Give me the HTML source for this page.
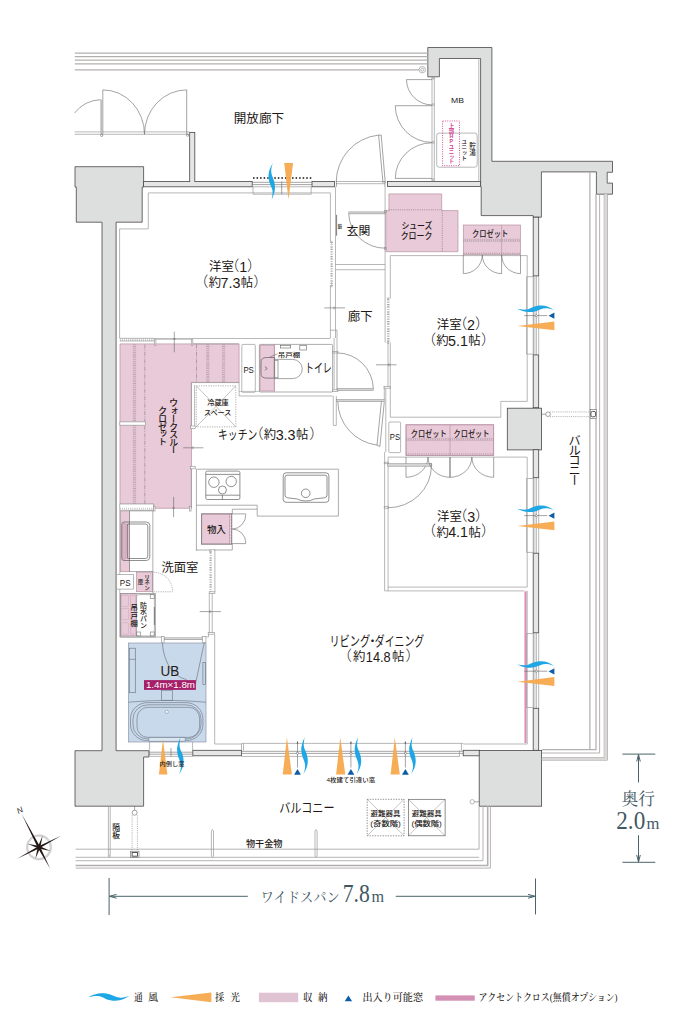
<!DOCTYPE html>
<html lang="ja"><head><meta charset="utf-8"><title>間取り図</title><style>
html,body{margin:0;padding:0;background:#fff}
body{width:676px;height:1025px;overflow:hidden;font-family:"Liberation Sans","Noto Sans CJK JP",sans-serif}
svg{display:block}
.w{fill:#dddede;stroke:#4a4545;stroke-width:.8;stroke-linejoin:miter}
.w2{fill:#e6e6e6}
.wf{stroke:#e6e6e6;stroke-width:1.2}
.l{fill:none;stroke:#9a9a9a;stroke-width:.7}
.lw{fill:#fff;stroke:#9a9a9a;stroke-width:.7}
.ln{fill:none;stroke:#8a8a8a;stroke-width:.7}
.n{fill:none;stroke:#9a9a9a;stroke-width:.6}
.g{fill:none;stroke:#b3afaf;stroke-width:1.25}
.gb{fill:none;stroke:#aeaaaa;stroke-width:.9}
.gb2{fill:none;stroke:#c2bebe;stroke-width:.8}
.gb3{fill:none;stroke:#b3afaf;stroke-width:1.6}
.gbf{fill:none;stroke:#dad7d7;stroke-width:2.2}
.g2{fill:none;stroke:#c4c0c0;stroke-width:1}
.g3{fill:none;stroke:#b3afaf;stroke-width:1.6}
.d{fill:none;stroke:#666;stroke-width:.6}
.lf{fill:#d4d4d4;stroke:#888;stroke-width:.5}
.dk{stroke:#444;stroke-width:.7}
.dk2{fill:#fff;stroke:#444;stroke-width:.9}
.dkf{fill:#555;stroke:none}
.dn{fill:none;stroke:#555;stroke-width:.65}
.dw{fill:#fff;stroke:#666;stroke-width:.6}
.x{stroke:#888;stroke-width:.5}
.pk{fill:#e8cad9;stroke:#b9939f;stroke-width:.7}
.fr{fill:none;stroke:#8d8487;stroke-width:1}
.pkb{fill:none;stroke:#b893a8;stroke-width:.7}
.pkl{stroke:#b893a8;stroke-width:.7}
.pkd{fill:#ddb5c9;stroke:#a98798;stroke-width:.5}
.pkc{fill:#e8cad9;stroke:#c9a5ba;stroke-width:.5}
.ub{fill:#c9d9ec;stroke:none}
.ubl{fill:none;stroke:#8d99a6;stroke-width:.7}
.ubd{fill:none;stroke:#6d7783;stroke-width:.65}
.ubh{fill:#dbe6f3;stroke:#6d7783;stroke-width:.6}
.ubw{fill:#fff;stroke:#7f8a96;stroke-width:.6}
.mg{fill:#a61f69;stroke:none}
.dot{stroke:#8a7a82;stroke-width:.7;stroke-dasharray:1.1 1.1}
.rail{stroke:#a08e97;stroke-width:2.2;stroke-dasharray:.55 1.3}
.rl{stroke:#bfa3b2;stroke-width:.4}
.dot2{stroke:#777;stroke-width:.6;stroke-dasharray:1 1.1}
.dash{stroke:#8a7a82;stroke-width:.6;stroke-dasharray:4 1.2 1 1.2}
.wv{fill:#1ea7e4;stroke:none}
.or{fill:#f5a94d;stroke:none;opacity:.95}
.bt{fill:#0d5ca5;stroke:none}
.dm{fill:none;stroke:#4a646c;stroke-width:1}
.lg1{fill:#dfc3d2}
.lg2{fill:#d48fb4}
text{fill:#231815;font-weight:400;font-family:"Liberation Sans","Noto Sans CJK JP",sans-serif}
.tb{font-weight:500}
.vt{writing-mode:vertical-rl;text-orientation:upright;dominant-baseline:central}
.tw{fill:#fff}
.pr{font-weight:300}
.tm{fill:#d2428f;font-weight:700}
.sd{font-weight:400;fill:#3f5963;font-family:"Liberation Serif","Noto Serif CJK SC",serif}
.sl{fill:#231815;font-weight:500;font-family:"Liberation Serif","Noto Serif CJK SC",serif}
</style></head><body>
<svg width="676" height="1025" viewBox="0 0 676 1025">
<path class="pk" d="M120,343.9H239.1V382.6H191.5V508.3H154V504.2H120Z" />
<path class="pk" d="M388.9,193.9H441.7V210.6H458V251.7H385.8V210.6H388.9Z" />
<rect class="pk" x="463.3" y="225" width="57.2" height="29.7" />
<rect class="pk" x="260" y="345.2" width="14.3" height="45.8" />
<rect class="pk" x="406" y="424.8" width="87.7" height="30.8" />
<rect class="pk" x="201.6" y="513.9" width="30.1" height="30.2" />
<rect class="pk" x="120.5" y="510.9" width="9.0" height="60.8" />
<rect class="pk" x="136.5" y="572" width="15.9" height="19.7" />
<rect class="pk" x="120.6" y="593.8" width="15.9" height="42.0" />
<rect class="ub" x="128.4" y="643" width="77.6" height="99" />
<polygon class="w" points="75,166.7 143.6,166.7 143.6,187 142.2,187 142.2,222.2 116.1,222.2 116.1,750.7 148.9,750.7 148.9,757 143.6,757 143.6,806.2 75,806.2 75,750.7 102,750.7 102,222.2 76.3,222.2 76.3,187 75,187"/>
<polygon class="w" points="427.8,47.5 491.9,47.5 491.9,161.3 612.5,161.3 612.5,172.3 607.2,172.3 607.2,183.1 612.5,183.1 612.5,194.2 596.4,194.2 596.4,171.9 541.4,171.9 541.4,217.2 538.7,217.2 533.2,217.2 533.2,215.6 481.2,215.6 481.2,186.6 480.6,186.6 480.6,58.5 439.4,58.5 439.4,76.8 427.8,76.8"/>
<rect class="w w2" x="143.6" y="181.4" width="108.6" height="5.4" />
<rect class="w w2" x="312" y="181.4" width="22.4" height="5.4" />
<rect class="w w2" x="189.7" y="132.5" width="5.1" height="48.9" />
<line class="wf" x1="190.2" y1="181.4" x2="194.3" y2="181.4"/>
<rect class="w w2" x="387.4" y="181.4" width="93.2" height="5.2" />
<rect class="w w2" x="533.2" y="217.2" width="5.5" height="58.7" />
<rect class="w w2" x="533.2" y="354.9" width="5.5" height="52.8" />
<rect class="w" x="507.3" y="408.2" width="34.3" height="41.7" />
<rect class="w w2" x="533.2" y="449.7" width="5.5" height="28.0" />
<rect class="w w2" x="533.2" y="553.2" width="5.5" height="79.6" />
<rect class="w w2" x="533.2" y="708.3" width="5.5" height="42.0" />
<rect class="w w2" x="192.8" y="750.3" width="48.7" height="5.5" />
<rect class="w w2" x="463.2" y="750.3" width="16.4" height="5.5" />
<rect class="w" x="479.2" y="750.5" width="62.4" height="55.7" />
<line class="g" x1="74.8" y1="53" x2="427.8" y2="53"/>
<line class="g" x1="74.8" y1="56.7" x2="427.8" y2="56.7"/>
<line class="g" x1="74.8" y1="60.2" x2="427.8" y2="60.2"/>
<line class="g" x1="74.8" y1="63.9" x2="427.8" y2="63.9"/>
<line class="g" x1="74.8" y1="69.9" x2="419" y2="69.9"/>
<circle class="l" cx="422.3" cy="69.7" r="3.2"/>
<circle class="l" cx="422.3" cy="69.7" r="1.5"/>
<line class="l" x1="74.6" y1="131.9" x2="189.7" y2="131.9"/>
<line class="l" x1="74.6" y1="134.3" x2="189.7" y2="134.3"/>
<line class="d" x1="102.8" y1="89.9" x2="102.8" y2="134"/>
<path class="d" d="M102.8,89.9A41.7,44.4 0 0 1 144.5,134.3" />
<line class="d" x1="186.7" y1="89.9" x2="186.7" y2="134"/>
<path class="d" d="M186.7,89.9A42.2,44.4 0 0 0 144.5,134.3" />
<line x1="101.5" y1="99.7" x2="101.5" y2="134" stroke="#bdbdbd" stroke-width="2.4"/>
<path class="d" d="M100.6,99.7A34.7,34.7 0 0 0 74.6,113" />
<circle class="d" cx="101.7" cy="135.4" r="1.1"/>
<circle class="d" cx="187.6" cy="135.2" r="1.1"/>
<polyline class="l" points="330.4,241.7 330.4,192.9 148.3,192.9 148.3,228.9 119.6,228.9 119.6,338.3"/>
<line class="d" x1="252.2" y1="182.3" x2="312" y2="182.3"/>
<line class="d" x1="252.2" y1="184.60000000000002" x2="312" y2="184.60000000000002"/>
<polyline class="l" points="253.0,186.8 253.0,194.2 311.2,194.2 311.2,186.8"/>
<line class="l" x1="252.2" y1="186.8" x2="312" y2="186.8"/>
<line class="d" x1="281.7" y1="181.4" x2="281.7" y2="194.2"/>
<line x1="253" y1="177.9" x2="311.5" y2="177.9" stroke="#4a4a4a" stroke-width="2" stroke-dasharray="1.5 2.05"/>
<line class="l" x1="335.5" y1="186.8" x2="335.5" y2="338"/>
<line class="l" x1="330.4" y1="285.8" x2="330.4" y2="338"/>
<line x1="331.6" y1="242.5" x2="331.6" y2="285.5" stroke="#888" stroke-width="2.2" stroke-dasharray="0.6 1.1"/>
<circle class="l" cx="331.5" cy="242.3" r="0.9"/>
<circle class="l" cx="331.5" cy="285.8" r="0.9"/>
<line class="d" x1="324.4" y1="307.9" x2="345" y2="307.9"/>
<line class="d" x1="334" y1="306.5" x2="334" y2="309.3"/>
<line class="dk" x1="336.6" y1="214.9" x2="336.6" y2="235.7"/>
<line class="l" x1="335.5" y1="264.5" x2="385.1" y2="264.5"/>
<line class="l" x1="335.5" y1="269.7" x2="385.1" y2="269.7"/>
<line class="l" x1="336" y1="181.5" x2="385" y2="181.5"/>
<line class="l" x1="336" y1="183.7" x2="385" y2="183.7"/>
<line class="d" x1="336.4" y1="181.4" x2="336.4" y2="186.8"/>
<line class="d" x1="384.9" y1="181.4" x2="384.9" y2="186.8"/>
<path class="d" d="M336.2,182A47,47.5 0 0 1 378.6,135.1" />
<line class="d" x1="378.6" y1="135.1" x2="383" y2="183"/>
<line class="d" x1="381.2" y1="135.1" x2="385.3" y2="183"/>
<line class="d" x1="378.6" y1="135.1" x2="381.2" y2="135.1"/>
<line class="l" x1="385.1" y1="186.6" x2="385.1" y2="300"/>
<rect class="lf" x="348.8" y="211.9" width="36.3" height="2.0" />
<path class="d" d="M348.8,213.8A36.3,35 0 0 0 385.1,248.2" />
<rect class="l" x="384.6" y="210.6" width="2.0" height="1.8" />
<rect class="l" x="384.6" y="247.4" width="2.0" height="1.8" />
<line x1="388.9" y1="209.8" x2="441.7" y2="209.8" class="dot"/>
<line x1="442.3" y1="210.6" x2="442.3" y2="251.7" class="dot"/>
<polyline class="l" points="390.3,298.5 390.3,255.6 527.2,255.6 527.2,401.4 500.8,401.4 500.8,417.2 390.3,417.2 390.3,342.6"/>
<line class="l" x1="385.1" y1="300" x2="385.1" y2="342.6"/>
<line x1="388.3" y1="299" x2="388.3" y2="342" stroke="#888" stroke-width="2.4" stroke-dasharray="0.6 1.1"/>
<circle class="l" cx="388.2" cy="298.6" r="0.9"/>
<circle class="l" cx="388" cy="342.6" r="0.9"/>
<line class="l" x1="388" y1="342.6" x2="388" y2="387"/>
<line class="d" x1="375.9" y1="364.8" x2="396.6" y2="364.8"/>
<line class="d" x1="388.9" y1="363.3" x2="388.9" y2="366.3"/>
<polyline class="l" points="384.3,387.5 384.3,399.5"/>
<line class="l" x1="385.8" y1="388.5" x2="385.8" y2="452"/>
<rect class="l" x="384" y="386.6" width="6.3" height="1.6" />
<line class="pkl" x1="501.6" y1="225" x2="501.6" y2="254.7"/>
<line x1="463.6" y1="240.3" x2="520.9" y2="240.3" class="rail"/>
<line class="rl" x1="463.6" y1="239.15" x2="520.9" y2="239.15"/>
<line class="rl" x1="463.6" y1="241.45000000000002" x2="520.9" y2="241.45000000000002"/>
<line x1="463.6" y1="253.3" x2="520.5" y2="253.3" class="dot"/>
<line class="d" x1="463.3" y1="255" x2="463.3" y2="273.6"/>
<path class="d" d="M463.3,273.6A19,18.6 0 0 0 482.3,255" />
<line class="d" x1="501.6" y1="255" x2="501.6" y2="273.6"/>
<path class="d" d="M501.6,273.6A19.3,18.6 0 0 1 482.3,255" />
<line class="d" x1="520.5" y1="255" x2="520.5" y2="273.6"/>
<path class="d" d="M520.5,273.6A18.9,18.6 0 0 1 501.6,255" />
<line class="d" x1="533.9" y1="275.9" x2="533.9" y2="354.9"/>
<line class="d" x1="536.2" y1="275.9" x2="536.2" y2="354.9"/>
<polyline class="l" points="533.2,276.7 526.6,276.7 526.6,354.09999999999997 533.2,354.09999999999997"/>
<line class="l" x1="533.2" y1="275.9" x2="533.2" y2="354.9"/>
<line class="l" x1="538.7" y1="275.9" x2="538.7" y2="354.9"/>
<line class="d" x1="533.9" y1="477.7" x2="533.9" y2="553.2"/>
<line class="d" x1="536.2" y1="477.7" x2="536.2" y2="553.2"/>
<polyline class="l" points="533.2,478.5 526.6,478.5 526.6,552.4000000000001 533.2,552.4000000000001"/>
<line class="l" x1="533.2" y1="477.7" x2="533.2" y2="553.2"/>
<line class="l" x1="538.7" y1="477.7" x2="538.7" y2="553.2"/>
<line class="d" x1="533.9" y1="632.8" x2="533.9" y2="708.3"/>
<line class="d" x1="536.2" y1="632.8" x2="536.2" y2="708.3"/>
<polyline class="l" points="533.2,633.5999999999999 526.6,633.5999999999999 526.6,707.5 533.2,707.5"/>
<line class="l" x1="533.2" y1="632.8" x2="533.2" y2="708.3"/>
<line class="l" x1="538.7" y1="632.8" x2="538.7" y2="708.3"/>
<line class="l" x1="119.6" y1="338.3" x2="154.4" y2="338.3"/>
<line class="l" x1="119.6" y1="341" x2="154.4" y2="341"/>
<line x1="120.5" y1="339.7" x2="154" y2="339.7" stroke="#999" stroke-width="2.4" stroke-dasharray="0.5 1.4"/>
<line x1="154.4" y1="338.9" x2="192.8" y2="338.9" stroke="#bbb" stroke-width="1.8"/>
<rect class="lw" x="154.4" y="339" width="1.5" height="6.5" />
<rect class="lw" x="191.3" y="339" width="1.5" height="6.5" />
<line class="l" x1="192.8" y1="338.5" x2="330.4" y2="338.5"/>
<line class="l" x1="192.8" y1="343.9" x2="239" y2="343.9"/>
<line class="d" x1="174.3" y1="331.7" x2="174.3" y2="352.4"/>
<line class="d" x1="172.9" y1="338.9" x2="175.7" y2="338.9"/>
<line x1="134.4" y1="344.5" x2="134.4" y2="421.9" class="rail"/>
<line class="rl" x1="133.25" y1="344.5" x2="133.25" y2="421.9"/>
<line class="rl" x1="135.55" y1="344.5" x2="135.55" y2="421.9"/>
<line x1="134.4" y1="425.2" x2="134.4" y2="504" class="rail"/>
<line class="rl" x1="133.25" y1="425.2" x2="133.25" y2="504"/>
<line class="rl" x1="135.55" y1="425.2" x2="135.55" y2="504"/>
<line x1="144.8" y1="344.5" x2="144.8" y2="504" class="dash"/>
<line x1="196.5" y1="344.5" x2="196.5" y2="382.4" class="dash"/>
<line x1="207.8" y1="344.5" x2="207.8" y2="382.4" class="rail"/>
<line class="rl" x1="206.65" y1="344.5" x2="206.65" y2="382.4"/>
<line class="rl" x1="208.95000000000002" y1="344.5" x2="208.95000000000002" y2="382.4"/>
<line x1="223.6" y1="344.5" x2="223.6" y2="382.4" class="rail"/>
<line class="rl" x1="222.45" y1="344.5" x2="222.45" y2="382.4"/>
<line class="rl" x1="224.75" y1="344.5" x2="224.75" y2="382.4"/>
<rect class="lw" x="119.8" y="421.9" width="25.7" height="3.3" />
<polyline class="l" points="191.3,382.4 239.1,382.4 239.1,396 332.6,396"/>
<line class="l" x1="191.3" y1="382.4" x2="191.3" y2="426"/>
<line class="l" x1="194.6" y1="385" x2="194.6" y2="426"/>
<rect class="lw" x="190.6" y="426" width="4.6" height="2.5" />
<line class="l" x1="191.3" y1="468.5" x2="191.3" y2="508"/>
<rect class="lw" x="190.6" y="466.3" width="4.6" height="2.5" />
<line class="d" x1="183.2" y1="447.8" x2="203.4" y2="447.8"/>
<line class="d" x1="192.9" y1="446.3" x2="192.9" y2="449.3"/>
<rect x="196.3" y="385.9" width="39.5" height="41" fill="none" stroke="#777" stroke-width=".6" stroke-dasharray="1.2 1.2"/>
<line class="x" x1="196.3" y1="385.9" x2="235.8" y2="426.9"/>
<line class="x" x1="235.8" y1="385.9" x2="196.3" y2="426.9"/>
<rect class="lw" x="241.8" y="344.4" width="13.5" height="47.9" rx="1"/>
<rect class="ln" x="259.4" y="344.4" width="73.2" height="47.6" rx="1"/>
<line class="pkl" x1="274.4" y1="344.4" x2="274.4" y2="392"/>
<path class="dn" d="M274.4,357.5H266.5Q261,357.5 261,362V373.6Q261,378.1 266.5,378.1H274.4Z" />
<path class="dw" d="M274.4,359.4H292.5A9.8,9.6 0 0 1 292.5,378.6H274.4Z" />
<rect class="dw" x="274.8" y="360.2" width="3.2" height="17.6" />
<path class="dn" d="M264.8,366.6L267.3,368.4L264.8,370.2" />
<line class="d" x1="270" y1="357" x2="277.6" y2="353.7"/>
<rect class="dw" x="280.6" y="345.3" width="10.1" height="2.7" />
<rect class="dw" x="299.8" y="345.3" width="6.5" height="4.7" />
<line class="l" x1="334.1" y1="338" x2="334.1" y2="352.2"/>
<line class="l" x1="337" y1="330" x2="337" y2="352.9"/>
<polyline class="l" points="330.2,330.2 337,330.2"/>
<line class="l" x1="334.1" y1="352.2" x2="334.1" y2="389.5"/>
<line class="d" x1="337" y1="352.9" x2="337" y2="389.5"/>
<path class="d" d="M337,352.9A36.4,36.4 0 0 1 373.3,388.4" />
<rect class="lf" x="337" y="388.4" width="36.3" height="2.2" />
<rect class="l" x="332.5" y="351.4" width="5.5" height="1.6" />
<rect class="l" x="332.5" y="389.8" width="5.5" height="1.6" />
<line class="n" x1="239.1" y1="391.4" x2="259.4" y2="391.4"/>
<polyline class="l" points="333.3,396 333.3,425.4 336.3,425.4 336.3,396"/>
<rect class="lf" x="336.6" y="399.5" width="47.7" height="2.2" />
<path class="d" d="M337.8,401.7A45,44.5 0 0 0 377,445.1" />
<line class="d" x1="381.4" y1="401.7" x2="377" y2="445.1"/>
<line class="d" x1="384.3" y1="401.7" x2="379.9" y2="446.5"/>
<line class="d" x1="377" y1="445.1" x2="379.9" y2="446.5"/>
<polyline class="ln" points="196.4,469.2 338.4,469.2 338.4,516.1 257.2,516.1 257.2,505.2 196.4,505.2"/>
<line class="ln" x1="196.4" y1="469.2" x2="196.4" y2="550.9"/>
<rect class="dn" x="205.8" y="471.1" width="34.1" height="28.4" rx="1.5"/>
<line class="dn" x1="206" y1="474.4" x2="239.7" y2="474.4"/>
<line class="dn" x1="206" y1="495.2" x2="239.7" y2="495.2"/>
<circle class="dn" cx="213.9" cy="482.2" r="5.2"/>
<circle class="dn" cx="231.2" cy="481.5" r="5.2"/>
<circle class="dn" cx="222.4" cy="490" r="4"/>
<line class="dn" x1="222.4" y1="495.2" x2="222.4" y2="499.5"/>
<rect class="dn" x="283.2" y="472.8" width="45.7" height="29.5" rx="3"/>
<path class="dn" d="M287,475.2H325Q327,475.2 327,477.2V495Q327,497.5 324.5,497.8L314,499Q311,501 305.7,501Q300.4,501 297.4,499L287.5,497.8Q285,497.5 285,495V477.2Q285,475.2 287,475.2Z" />
<circle class="dn" cx="305.7" cy="493.3" r="4.3"/>
<rect class="fr" x="201.6" y="513.9" width="30.1" height="30.2" />
<line class="pkl" x1="229.6" y1="513.9" x2="229.6" y2="544.1"/>
<line x1="230.6" y1="515" x2="230.6" y2="543" stroke="#fff" stroke-width=".7" stroke-dasharray="1 2"/>
<polyline class="ln" points="257.2,509.2 232.3,509.2 232.3,513.9"/>
<polyline class="ln" points="232.3,544.1 232.3,550 214,550"/>
<line class="ln" x1="196.4" y1="550" x2="209.9" y2="550"/>
<line class="d" x1="231.7" y1="513.9" x2="245.9" y2="513.9"/>
<path class="d" d="M245.9,514.2A13.6,14.8 0 0 1 232.3,529" />
<line class="d" x1="231.7" y1="543.6" x2="245.9" y2="543.6"/>
<path class="d" d="M245.9,543.3A13.6,14.2 0 0 0 232.3,529.1" />
<rect class="lw" x="119.8" y="504" width="33.7" height="6.2" />
<line x1="120.5" y1="508.6" x2="153" y2="508.6" stroke="#999" stroke-width="1.8" stroke-dasharray="0.5 1.4"/>
<line class="d" x1="173.6" y1="496.8" x2="173.6" y2="517.2"/>
<line class="d" x1="172.2" y1="508" x2="175" y2="508"/>
<rect class="lw" x="153.5" y="506.4" width="1.5" height="4.6" />
<rect class="lw" x="189.6" y="506.4" width="1.5" height="4.6" />
<line class="l" x1="119.8" y1="510.6" x2="119.8" y2="637"/>
<line class="l" x1="119.8" y1="637" x2="161.5" y2="637"/>
<rect class="ln" x="129.5" y="510.9" width="23.4" height="60.8" />
<path class="dn" d="M124,522H146.3Q149.8,522 149.8,525.5V557Q149.8,560.5 146.3,560.5H124Q121.7,560.5 121.7,558V524.5Q121.7,522 124,522Z" />
<path class="dn" d="M127.6,524H145.5Q147.8,524 147.8,526.5V556Q147.8,558.5 145.5,558.5H127.6Z" />
<rect class="pkd" x="122.6" y="523.6" width="3.6" height="35.4" rx="1.2"/>
<rect class="lw" x="116.7" y="574.4" width="16.7" height="14.7" />
<path d="M153.5,572.2A19.3,19.3 0 0 1 172.6,591.6" fill="none" stroke="#888" stroke-width=".6" stroke-dasharray="1.3 1"/>
<line x1="153.5" y1="591.8" x2="172.6" y2="591.8" stroke="#888" stroke-width=".6" stroke-dasharray="1.3 1"/>
<line class="ln" x1="152.9" y1="571.7" x2="152.9" y2="593.5"/>
<rect class="ln" x="120.7" y="593.5" width="34.6" height="43.5" />
<rect class="lw" x="136.6" y="594.6" width="17.8" height="41.4" rx="2"/>
<rect class="pkc" x="121.6" y="595.4" width="6.9" height="11.2" />
<rect class="pkc" x="130.3" y="595.4" width="5.5" height="11.2" />
<rect class="pkc" x="121.6" y="608.6" width="6.9" height="11.2" />
<rect class="pkc" x="130.3" y="608.6" width="5.5" height="11.2" />
<rect class="pkc" x="121.6" y="622.8" width="6.9" height="11.2" />
<rect class="pkc" x="130.3" y="622.8" width="5.5" height="11.2" />
<rect class="ln" x="150.3" y="594.6" width="4.1" height="4.0" />
<rect class="ln" x="150.3" y="632" width="4.1" height="4" />
<rect class="ln" x="136.6" y="632" width="4.0" height="4" />
<line class="dn" x1="154.4" y1="607" x2="154.4" y2="625"/>
<line class="l" x1="214.9" y1="549.7" x2="214.9" y2="592"/>
<line class="l" x1="209.4" y1="549.7" x2="214.9" y2="549.7"/>
<line x1="210.6" y1="551.8" x2="210.6" y2="591.8" stroke="#888" stroke-width="2.2" stroke-dasharray="0.6 1.1"/>
<circle class="l" cx="210.4" cy="551.3" r="0.9"/>
<rect class="l" x="209.2" y="591.8" width="5.7" height="1.6" />
<line class="l" x1="209.3" y1="593.5" x2="209.3" y2="632.6"/>
<line class="l" x1="212.2" y1="593.5" x2="212.2" y2="632.6"/>
<rect class="l" x="208.2" y="632.6" width="6.3" height="1.6" />
<line class="d" x1="199.7" y1="611.6" x2="221" y2="611.6"/>
<line class="d" x1="210" y1="610.1" x2="210" y2="613.1"/>
<polyline class="l" points="214.7,634.2 214.7,744 241.5,744"/>
<polyline class="l" points="205.9,636.9 208.5,636.9 208.5,634.2"/>
<rect class="ubl" x="128.4" y="643" width="77.6" height="99" />
<rect class="ubd" x="129.3" y="648.2" width="6.0" height="44.5" />
<line class="ubd" x1="129.3" y1="659.3" x2="135.3" y2="659.3"/>
<rect class="ubd" x="202.9" y="662.5" width="2.4" height="22.0" />
<rect class="ubd" x="161.4" y="690.2" width="10.9" height="10.1" />
<path class="ubd" d="M128.4,702.2Q167,698.6 206,702.2" />
<rect class="ubd" x="130.5" y="702.6" width="72.4" height="38.1" rx="17" ry="16"/>
<rect class="ubd" x="133" y="704.8" width="68" height="34.2" rx="15" ry="14"/>
<rect class="ubd" x="137" y="707.3" width="62.6" height="30.1" rx="11" ry="11"/>
<circle class="ubw" cx="166.7" cy="711.9" r="1.6"/>
<rect class="ubh" x="148.8" y="737.4" width="36.5" height="4.0" rx="1"/>
<rect class="lw" x="161.5" y="636.6" width="2.6" height="6.0" />
<rect class="lw" x="202.3" y="636.6" width="3.6" height="6.0" />
<line class="d" x1="164.1" y1="637.9" x2="202.3" y2="637.9"/>
<line class="d" x1="164.1" y1="639.4" x2="202.3" y2="639.4"/>
<path class="d" d="M162.4,643C163,655 168,668 176,674.5Q181,678.5 186.6,679.6" />
<line class="d" x1="204.2" y1="643" x2="195.5" y2="683.7"/>
<rect class="mg" x="144" y="680.1" width="51.9" height="9.8" />
<rect class="lw" x="388.8" y="422" width="11.8" height="30.6" rx="1"/>
<rect class="pkb" x="406" y="424.8" width="87.7" height="30.8" />
<line class="pkl" x1="450" y1="424.8" x2="450" y2="455.6"/>
<line x1="406" y1="439.4" x2="493.7" y2="439.4" class="rail"/>
<line class="rl" x1="406" y1="438.25" x2="493.7" y2="438.25"/>
<line class="rl" x1="406" y1="440.54999999999995" x2="493.7" y2="440.54999999999995"/>
<line x1="406" y1="454" x2="493.7" y2="454" class="dot"/>
<polyline class="l" points="388.1,590.9 388.1,457.1 527.2,457.1 527.2,587.1 388.1,587.1"/>
<polyline class="l" points="384.6,452 384.6,590.9 524,590.9"/>
<line class="d" x1="406" y1="457.1" x2="406" y2="477.3"/>
<path class="d" d="M406,477.3A22,20.2 0 0 0 428,457.1" />
<line class="d" x1="450" y1="457.1" x2="450" y2="477.3"/>
<path class="d" d="M450,477.3A22,20.2 0 0 1 428,457.1" />
<line class="d" x1="450" y1="457.1" x2="450" y2="477.3"/>
<path class="d" d="M450,477.3A21.8,20.2 0 0 0 471.8,457.1" />
<line class="d" x1="493.7" y1="457.1" x2="493.7" y2="477.3"/>
<path class="d" d="M493.7,477.3A21.8,20.2 0 0 1 471.9,457.1" />
<rect class="lf" x="387.8" y="463.7" width="43.6" height="2.5" />
<path class="d" d="M431.4,466A43.6,41.8 0 0 1 387.8,507.8" />
<circle class="d" cx="430.6" cy="464.6" r="1.1"/>
<rect class="l" x="384.2" y="462.2" width="4.2" height="1.5" />
<rect class="l" x="384.2" y="506.6" width="4.2" height="1.6" />
<line x1="525.5" y1="591.3" x2="525.5" y2="743" stroke="#dd8fb8" stroke-width="2.1"/>
<polyline class="l" points="527.2,590.9 527.2,744 463.2,744"/>
<polyline class="l" points="149.6,742 149.6,756.4 192.6,756.4 192.6,742"/>
<line class="d" x1="149.3" y1="752.2" x2="192.8" y2="752.2"/>
<line class="d" x1="149.3" y1="754.2" x2="192.8" y2="754.2"/>
<line class="d" x1="171" y1="748" x2="171" y2="756.4"/>
<polyline class="l" points="241.5,750.3 241.5,743.4 463.2,743.4"/>
<line class="l" x1="243.5" y1="743.4" x2="243.5" y2="750.6"/>
<line class="l" x1="461.4" y1="743.4" x2="461.4" y2="750.6"/>
<line class="d" x1="241.5" y1="751.3" x2="463.2" y2="751.3"/>
<line class="d" x1="241.5" y1="753.4" x2="463.2" y2="753.4"/>
<line class="l" x1="241.5" y1="756.4" x2="459.5" y2="756.4"/>
<polyline class="l" points="459.5,756.4 459.5,750.3"/>
<path class="wv" d="M0,3.2C3,3.6 6,4.4 8.9,4C12,3.5 13,2.6 15,1.8C18,0.6 21,0 24,0C29,0 33,2 36.8,4.5C33.5,3.2 31,2.6 28.4,2.7C25,2.8 22.5,4.2 19.5,5.3C16,6.5 12,6.8 8.9,6.2C5.5,5.6 2.5,4.2 0,3.2Z" transform="translate(517.1,305.6)"/>
<line class="d" x1="524.2" y1="315.6" x2="547.3" y2="315.6"/>
<circle class="dw" cx="536.2" cy="315.6" r="1.1"/>
<path class="bt" d="M548.6,315.8L554.4,312.6V318.8Z" />
<path class="or" d="M517.5,326.1L554.4,321.40000000000003V330.3Z" />
<path class="wv" d="M0,3.2C3,3.6 6,4.4 8.9,4C12,3.5 13,2.6 15,1.8C18,0.6 21,0 24,0C29,0 33,2 36.8,4.5C33.5,3.2 31,2.6 28.4,2.7C25,2.8 22.5,4.2 19.5,5.3C16,6.5 12,6.8 8.9,6.2C5.5,5.6 2.5,4.2 0,3.2Z" transform="translate(517.1,505.6)"/>
<line class="d" x1="524.2" y1="515.6" x2="547.3" y2="515.6"/>
<circle class="dw" cx="536.2" cy="515.6" r="1.1"/>
<path class="bt" d="M548.6,515.8000000000001L554.4,512.6V518.8000000000001Z" />
<path class="or" d="M517.5,526.1L554.4,521.4V530.3000000000001Z" />
<path class="wv" d="M0,3.2C3,3.6 6,4.4 8.9,4C12,3.5 13,2.6 15,1.8C18,0.6 21,0 24,0C29,0 33,2 36.8,4.5C33.5,3.2 31,2.6 28.4,2.7C25,2.8 22.5,4.2 19.5,5.3C16,6.5 12,6.8 8.9,6.2C5.5,5.6 2.5,4.2 0,3.2Z" transform="translate(517.1,661.2)"/>
<line class="d" x1="524.2" y1="671.2" x2="547.3" y2="671.2"/>
<circle class="dw" cx="536.2" cy="671.2" r="1.1"/>
<path class="bt" d="M548.6,671.4000000000001L554.4,668.2V674.4000000000001Z" />
<path class="or" d="M517.5,681.7L554.4,677.0V685.9000000000001Z" />
<path class="or" d="M286.9,737.6L282.7,774.6H291.9Z" />
<line class="d" x1="297.5" y1="741.5" x2="297.5" y2="767.5"/>
<circle class="dw" cx="297.5" cy="753.3" r="1.1"/>
<path class="dkf" d="M297.5,741.2L296.6,743.4H298.4Z" />
<path class="bt" d="M297.5,769L294.1,774.7H300.9Z" />
<path class="wv" d="M0,3.2C3,3.6 6,4.4 8.9,4C12,3.5 13,2.6 15,1.8C18,0.6 21,0 24,0C29,0 33,2 36.8,4.5C33.5,3.2 31,2.6 28.4,2.7C25,2.8 22.5,4.2 19.5,5.3C16,6.5 12,6.8 8.9,6.2C5.5,5.6 2.5,4.2 0,3.2Z" transform="translate(307.8,737.2) rotate(90)"/>
<path class="or" d="M340.29999999999995,737.6L336.09999999999997,774.6H345.29999999999995Z" />
<line class="d" x1="350.9" y1="741.5" x2="350.9" y2="767.5"/>
<circle class="dw" cx="350.9" cy="753.3" r="1.1"/>
<path class="dkf" d="M350.9,741.2L350.0,743.4H351.79999999999995Z" />
<path class="bt" d="M350.9,769L347.5,774.7H354.29999999999995Z" />
<path class="wv" d="M0,3.2C3,3.6 6,4.4 8.9,4C12,3.5 13,2.6 15,1.8C18,0.6 21,0 24,0C29,0 33,2 36.8,4.5C33.5,3.2 31,2.6 28.4,2.7C25,2.8 22.5,4.2 19.5,5.3C16,6.5 12,6.8 8.9,6.2C5.5,5.6 2.5,4.2 0,3.2Z" transform="translate(361.2,737.2) rotate(90)"/>
<path class="or" d="M394.79999999999995,737.6L390.59999999999997,774.6H399.79999999999995Z" />
<line class="d" x1="405.4" y1="741.5" x2="405.4" y2="767.5"/>
<circle class="dw" cx="405.4" cy="753.3" r="1.1"/>
<path class="dkf" d="M405.4,741.2L404.5,743.4H406.29999999999995Z" />
<path class="bt" d="M405.4,769L402.0,774.7H408.79999999999995Z" />
<path class="wv" d="M0,3.2C3,3.6 6,4.4 8.9,4C12,3.5 13,2.6 15,1.8C18,0.6 21,0 24,0C29,0 33,2 36.8,4.5C33.5,3.2 31,2.6 28.4,2.7C25,2.8 22.5,4.2 19.5,5.3C16,6.5 12,6.8 8.9,6.2C5.5,5.6 2.5,4.2 0,3.2Z" transform="translate(415.7,737.2) rotate(90)"/>
<path class="or" d="M163,739.4L158.9,774.5H167.4Z" />
<path class="wv" d="M0,3.2C3,3.6 6,4.4 8.9,4C12,3.5 13,2.6 15,1.8C18,0.6 21,0 24,0C29,0 33,2 36.8,4.5C33.5,3.2 31,2.6 28.4,2.7C25,2.8 22.5,4.2 19.5,5.3C16,6.5 12,6.8 8.9,6.2C5.5,5.6 2.5,4.2 0,3.2Z" transform="translate(183.6,737.6) rotate(90)"/>
<path class="wv" d="M0,3.2C3,3.6 6,4.4 8.9,4C12,3.5 13,2.6 15,1.8C18,0.6 21,0 24,0C29,0 33,2 36.8,4.5C33.5,3.2 31,2.6 28.4,2.7C25,2.8 22.5,4.2 19.5,5.3C16,6.5 12,6.8 8.9,6.2C5.5,5.6 2.5,4.2 0,3.2Z" transform="translate(268.5,199.7) rotate(-90)"/>
<path class="or" d="M284.2,163.1H293.1L288.5,199.4Z" />
<line class="g" x1="589.9" y1="172.3" x2="589.9" y2="749.6"/>
<polyline class="g" points="596,194.1 596,749.6 541.8,749.6"/>
<polyline class="gb" points="599.6,194.1 599.6,753 541.8,753"/>
<path class="gb" d="M604.2,194.1V757.7H541.8M607.4,194.1V760.2H541.8" />
<path class="gbf" d="M605.8,194.1V759H541.8" />
<circle class="dw" cx="548" cy="414.2" r="2.3"/>
<line class="d" x1="542" y1="414.2" x2="545.7" y2="414.2"/>
<line x1="550" y1="411.9" x2="590.3" y2="411.9" class="dot2"/>
<line x1="550" y1="416.6" x2="590.3" y2="416.6" class="dot2"/>
<rect class="dw" x="590.2" y="409.4" width="6.0" height="9.2" />
<rect class="dk2" x="590.9" y="411.4" width="4.7" height="5.4" rx="1.6"/>
<polyline class="gb" points="75.6,849.2 479.1,849.2 479.1,806.1"/>
<polyline class="gb" points="75.6,857.3 479.1,857.3"/>
<polyline class="gb" points="75.6,860.7 483,860.7 483,806.1"/>
<polyline class="gb3" points="75.6,865.5 487.7,865.5 487.7,806.1"/>
<polyline class="gb" points="75.6,868.1 490.4,868.1 490.4,806.1"/>
<line class="l" x1="108.4" y1="806.1" x2="108.4" y2="855.5"/>
<line class="l" x1="110.2" y1="806.1" x2="110.2" y2="855.5"/>
<circle class="l" cx="109.3" cy="856.2" r="0.9"/>
<circle class="dw" cx="134.6" cy="812.7" r="2.5"/>
<line class="d" x1="134.6" y1="806.1" x2="134.6" y2="810.2"/>
<line x1="132.1" y1="815.4" x2="132.1" y2="851" class="dot2"/>
<line x1="137.4" y1="815.4" x2="137.4" y2="851" class="dot2"/>
<rect class="dw" x="130.6" y="851.2" width="8.4" height="6.2" />
<rect class="dk2" x="132.1" y="852.5" width="5.4" height="3.7" />
<circle class="lw" cx="472.2" cy="801.8" r="2.2"/>
<line class="d" x1="474.4" y1="801.8" x2="479.1" y2="801.8"/>
<path class="l" d="M211.4,856.3V831Q212.45,828 213.5,831V856.3Q212.45,858.3 211.4,856.3" />
<path class="l" d="M315.0,856.3V831Q316.05,828 317.09999999999997,831V856.3Q316.05,858.3 315.0,856.3" />
<rect x="367.2" y="799.3" width="36.9" height="36.5" fill="#fff" stroke="#666" stroke-width=".7" stroke-dasharray="1.4 1.2"/>
<line class="x" x1="367.2" y1="799.3" x2="404.1" y2="835.8"/>
<line class="x" x1="404.1" y1="799.3" x2="367.2" y2="835.8"/>
<rect class="dn" x="408.4" y="799.3" width="36.7" height="36.5" />
<line class="x" x1="408.4" y1="799.3" x2="445.1" y2="835.8"/>
<line class="x" x1="445.1" y1="799.3" x2="408.4" y2="835.8"/>
<line class="l" x1="478.8" y1="58.5" x2="478.8" y2="181.4"/>
<line class="l" x1="432" y1="77" x2="432" y2="181.4"/>
<line class="l" x1="434.3" y1="77" x2="434.3" y2="181.4"/>
<line class="d" x1="406.5" y1="79.6" x2="432" y2="79.6"/>
<path class="d" d="M406.5,79.6A25.4,25.4 0 0 0 431.9,104.9" />
<line class="d" x1="395.3" y1="105.7" x2="432" y2="105.7"/>
<path class="d" d="M395.3,105.7A36.6,36.6 0 0 0 431.9,142.4" />
<path class="d" d="M431.9,142.8A36.6,35.6 0 0 0 395.3,178.4" />
<line class="d" x1="395.3" y1="178.4" x2="432" y2="178.4"/>
<circle class="l" cx="433.2" cy="78.3" r="1"/>
<circle class="l" cx="433.2" cy="104.6" r="1"/>
<circle class="l" cx="433.2" cy="142.4" r="1"/>
<circle class="l" cx="433.2" cy="179.6" r="1"/>
<rect class="lw" x="436.7" y="133.1" width="40.5" height="34.1" rx="2.5"/>
<rect x="442.6" y="121" width="16.9" height="44.7" fill="none" stroke="#d2428f" stroke-width=".9" stroke-dasharray="1 1.3"/>
<line class="dm" x1="638.5" y1="754.6" x2="638.5" y2="782.5"/>
<line class="dm" x1="638.5" y1="835.2" x2="638.5" y2="861.8"/>
<line class="dm" x1="622.4" y1="754.1" x2="655.3" y2="754.1"/>
<line class="dm" x1="622.4" y1="862.3" x2="655.3" y2="862.3"/>
<path class="dm" d="M638.5,754.5L636.7,761.5M638.5,754.5L640.3,761.5" />
<path class="dm" d="M638.5,862L636.7,855M638.5,862L640.3,855" />
<line class="dm" x1="109.1" y1="878" x2="109.1" y2="915"/>
<line class="dm" x1="535.5" y1="878.5" x2="535.5" y2="914.4"/>
<line class="dm" x1="109.5" y1="896.3" x2="247.8" y2="896.3"/>
<line class="dm" x1="395.7" y1="896.3" x2="535" y2="896.3"/>
<path class="dm" d="M109.4,896.3L116.5,894.4M109.4,896.3L116.5,898.2" />
<path class="dm" d="M535.2,896.3L528,894.4M535.2,896.3L528,898.2" />
<g transform="translate(39,847.3)">
<circle r="11.6" fill="none" stroke="#d6d6d6" stroke-width="2"/>
<circle r="12.7" fill="none" stroke="#999" stroke-width=".3"/>
<g transform="rotate(-27.5)" fill="#231815">
<path d="M0,-37.5L1.25,0L0,24L-1.25,0Z"/>
<path d="M-24.8,0L0,-1.15L25,0L0,1.15Z"/>
<g transform="rotate(45)"><path d="M0,-12L1.3,0L0,12L-1.3,0Z"/><path d="M-12,0L0,-1.3L12,0L0,1.3Z"/></g>
<text x="0" y="-39" font-size="8" text-anchor="middle" font-family="Liberation Serif,serif" font-style="italic">N</text>
</g></g>
<path class="wv" d="M0,3.2C3,3.6 6,4.4 8.9,4C12,3.5 13,2.6 15,1.8C18,0.6 21,0 24,0C29,0 33,2 36.8,4.5C33.5,3.2 31,2.6 28.4,2.7C25,2.8 22.5,4.2 19.5,5.3C16,6.5 12,6.8 8.9,6.2C5.5,5.6 2.5,4.2 0,3.2Z" transform="translate(88.3,1000.8) scale(1.13,-1.17)"/>
<path class="or" d="M170.6,997.2L211.4,992.4V1002.2Z" />
<rect class="lg1" x="258.9" y="992.7" width="39.3" height="9.5" />
<path class="bt" d="M348.4,995.4L344.7,1001.3H352.1Z" />
<rect class="lg2" x="435.4" y="995.4" width="39.3" height="5.3" />
<text class="t" x="233.8" y="123.43" font-size="12.4" textLength="50.3" lengthAdjust="spacingAndGlyphs" >開放廊下</text>
<text class="t" x="221.4" y="271.25" font-size="12.4" text-anchor="middle" >洋室</text>
<text class="pr" x="232.3" y="271.1" font-size="14.4" text-anchor="middle" >（</text>
<text class="t" x="243.2" y="272" font-size="14.3" text-anchor="middle" >1</text>
<text class="pr" x="254.3" y="271.1" font-size="14.4" text-anchor="middle" >）</text>
<text class="pr" x="201.3" y="286.8" font-size="14.4" text-anchor="middle" >（</text>
<text class="t" x="214.9" y="286.95" font-size="12.4" text-anchor="middle" >約</text>
<text class="t" x="230.4" y="287.7" font-size="14.3" text-anchor="middle" >7.3</text>
<text class="t" x="246.9" y="286.95" font-size="12.4" text-anchor="middle" >帖</text>
<text class="pr" x="260.5" y="286.8" font-size="14.4" text-anchor="middle" >）</text>
<text class="t" x="346.6" y="235.07" font-size="11.9" textLength="23.7" lengthAdjust="spacingAndGlyphs" >玄関</text>
<text class="tb" x="337.7" y="227.56" font-size="4.8" textLength="4.3" lengthAdjust="spacingAndGlyphs" >鏡</text>
<text class="t" x="347.8" y="321.25" font-size="12.2" textLength="24.7" lengthAdjust="spacingAndGlyphs" >廊下</text>
<text class="tb" x="401.4" y="228.58" font-size="8.8" textLength="31.0" lengthAdjust="spacingAndGlyphs" >シューズ</text>
<text class="tb" x="400.7" y="239.38" font-size="8.8" textLength="31.7" lengthAdjust="spacingAndGlyphs" >クローク</text>
<text class="tb" x="471.9" y="236.8" font-size="8.6" textLength="36.4" lengthAdjust="spacingAndGlyphs" >クロゼット</text>
<text class="t" x="449.2" y="328.75" font-size="12.4" text-anchor="middle" >洋室</text>
<text class="pr" x="460.1" y="328.6" font-size="14.4" text-anchor="middle" >（</text>
<text class="t" x="471.0" y="329.5" font-size="14.3" text-anchor="middle" >2</text>
<text class="pr" x="482.1" y="328.6" font-size="14.4" text-anchor="middle" >）</text>
<text class="pr" x="428.9" y="344.6" font-size="14.4" text-anchor="middle" >（</text>
<text class="t" x="442.5" y="344.75" font-size="12.4" text-anchor="middle" >約</text>
<text class="t" x="458.0" y="345.5" font-size="14.3" text-anchor="middle" >5.1</text>
<text class="t" x="474.5" y="344.75" font-size="12.4" text-anchor="middle" >帖</text>
<text class="pr" x="488.1" y="344.6" font-size="14.4" text-anchor="middle" >）</text>
<text class="t" x="305" y="372.1" font-size="12.8" textLength="26.8" lengthAdjust="spacingAndGlyphs" >トイレ</text>
<text class="tb" x="277.8" y="357.09" font-size="5.8" textLength="22.3" lengthAdjust="spacingAndGlyphs" >吊戸棚</text>
<text class="t" x="243.4" y="372.9" font-size="8.8" textLength="10.4" lengthAdjust="spacingAndGlyphs" >PS</text>
<text class="tb" x="207.2" y="405.1" font-size="7.2" textLength="21.6" lengthAdjust="spacingAndGlyphs" >冷蔵庫</text>
<text class="tb" x="203.9" y="414.7" font-size="7.2" textLength="27.6" lengthAdjust="spacingAndGlyphs" >スペース</text>
<text class="t" x="218.1" y="439.29" font-size="13" textLength="39.1" lengthAdjust="spacingAndGlyphs" >キッチン</text>
<text class="pr" x="256.5" y="438.7" font-size="14.4" text-anchor="middle" >（</text>
<text class="t" x="270" y="438.85" font-size="12.4" text-anchor="middle" >約</text>
<text class="t" x="285.6" y="439.6" font-size="14.3" text-anchor="middle" >3.3</text>
<text class="t" x="302.3" y="438.85" font-size="12.4" text-anchor="middle" >帖</text>
<text class="pr" x="316.5" y="438.7" font-size="14.4" text-anchor="middle" >）</text>
<text class="t" x="389.8" y="440.3" font-size="8.8" textLength="10.2" lengthAdjust="spacingAndGlyphs" >PS</text>
<text class="tb" x="410.7" y="437.3" font-size="8.6" textLength="36.0" lengthAdjust="spacingAndGlyphs" >クロゼット</text>
<text class="tb" x="453.5" y="437.3" font-size="8.6" textLength="36.0" lengthAdjust="spacingAndGlyphs" >クロゼット</text>
<text class="t" x="449.4" y="521.25" font-size="12.4" text-anchor="middle" >洋室</text>
<text class="pr" x="460.3" y="521.1" font-size="14.4" text-anchor="middle" >（</text>
<text class="t" x="471.2" y="522" font-size="14.3" text-anchor="middle" >3</text>
<text class="pr" x="482.3" y="521.1" font-size="14.4" text-anchor="middle" >）</text>
<text class="pr" x="429.0" y="536.4" font-size="14.4" text-anchor="middle" >（</text>
<text class="t" x="442.6" y="536.55" font-size="12.4" text-anchor="middle" >約</text>
<text class="t" x="458.1" y="537.3" font-size="14.3" text-anchor="middle" >4.1</text>
<text class="t" x="474.6" y="536.55" font-size="12.4" text-anchor="middle" >帖</text>
<text class="pr" x="488.2" y="536.4" font-size="14.4" text-anchor="middle" >）</text>
<text class="tb" x="206.9" y="533.23" font-size="9.6" textLength="18.9" lengthAdjust="spacingAndGlyphs" >物入</text>
<text class="t" x="161.5" y="572.14" font-size="12.3" textLength="36.9" lengthAdjust="spacingAndGlyphs" >洗面室</text>
<text class="t" x="119.8" y="585.9" font-size="8.8" textLength="10.7" lengthAdjust="spacingAndGlyphs" >PS</text>
<text class="t" x="160.6" y="675.6" font-size="14.8" textLength="18.7" lengthAdjust="spacingAndGlyphs" >UB</text>
<text class="tw" x="145.9" y="688.4" font-size="9.3" textLength="49.1" lengthAdjust="spacingAndGlyphs" >1.4m×1.8m</text>
<text class="t" x="329.4" y="645.98" font-size="13.2" textLength="40.8" lengthAdjust="spacingAndGlyphs" >リビング</text>
<text class="t" x="372.6" y="645.8" font-size="12" text-anchor="middle" >・</text>
<text class="t" x="374.8" y="645.98" font-size="13.2" textLength="49.3" lengthAdjust="spacingAndGlyphs" >ダイニング</text>
<text class="pr" x="344.6" y="661.1" font-size="14.4" text-anchor="middle" >（</text>
<text class="t" x="359.2" y="661.25" font-size="12.4" text-anchor="middle" >約</text>
<text class="t" x="378.2" y="662" font-size="14.3" text-anchor="middle" textLength="24.7" lengthAdjust="spacingAndGlyphs">14.8</text>
<text class="t" x="398.3" y="661.25" font-size="12.4" text-anchor="middle" >帖</text>
<text class="pr" x="412.7" y="661.1" font-size="14.4" text-anchor="middle" >）</text>
<text class="tb" x="159.6" y="765.58" font-size="6" textLength="24.8" lengthAdjust="spacingAndGlyphs" >内倒し窓</text>
<text class="tb" x="326.5" y="782.29" font-size="5.8" textLength="48.7" lengthAdjust="spacingAndGlyphs" >4枚建て引違い窓</text>
<text class="t" x="279.2" y="811.59" font-size="13" textLength="55.4" lengthAdjust="spacingAndGlyphs" >バルコニー</text>
<text class="tb" x="246" y="847.38" font-size="8.8" textLength="36.5" lengthAdjust="spacingAndGlyphs" >物干金物</text>
<text class="tb" x="370.6" y="816.0" font-size="7.2" textLength="30.0" lengthAdjust="spacingAndGlyphs" >避難器具</text>
<text class="tb" x="370.3" y="825.51" font-size="7" textLength="30.5" lengthAdjust="spacingAndGlyphs" >(奇数階)</text>
<text class="tb" x="411.7" y="816.0" font-size="7.2" textLength="30.0" lengthAdjust="spacingAndGlyphs" >避難器具</text>
<text class="tb" x="411.4" y="825.51" font-size="7" textLength="30.5" lengthAdjust="spacingAndGlyphs" >(偶数階)</text>
<text class="t" x="451" y="103" font-size="8" textLength="12.9" lengthAdjust="spacingAndGlyphs" >MB</text>
<text class="tb vt" x="172.6" y="398" font-size="9.2" textLength="56.6" lengthAdjust="spacing" >ウォークスルー</text>
<text class="tb vt" x="161.6" y="406.4" font-size="9.2" textLength="39.6" lengthAdjust="spacing" >クロゼット</text>
<text class="t vt" x="573.6" y="434.6" font-size="12.3" textLength="51.5" lengthAdjust="spacing" >バルコニー</text>
<text class="tb vt" x="147.1" y="573.6" font-size="5.6" textLength="17.0" lengthAdjust="spacing" >リネン</text>
<text class="tb vt" x="140.4" y="579.3" font-size="5.5" textLength="5.5" lengthAdjust="spacing" >庫</text>
<text class="tb vt" x="133.3" y="603.2" font-size="7.4" textLength="23.4" lengthAdjust="spacing" >吊戸棚</text>
<text class="tb vt" x="142.9" y="601.4" font-size="7" textLength="27.7" lengthAdjust="spacing" >防水パン</text>
<text class="tb vt" x="115.2" y="823" font-size="7.8" textLength="16.2" lengthAdjust="spacing" >隔板</text>
<text class="tb vt" x="472" y="142.6" font-size="6.6" textLength="13.6" lengthAdjust="spacing" >貯湯</text>
<text class="tb vt" x="463.6" y="138.6" font-size="5.8" textLength="22.6" lengthAdjust="spacing" >ユニット</text>
<text class="tm vt" x="451.4" y="123" font-size="5.4" textLength="41.1" lengthAdjust="spacing" >上部HPユニット</text>
<text class="sd" x="621.5" y="805.0" font-size="17.2" textLength="33.5" lengthAdjust="spacingAndGlyphs" >奥行</text>
<text class="sd" x="616.3" y="829" font-size="25" textLength="28.9" lengthAdjust="spacingAndGlyphs" >2.0</text>
<text class="sd" x="646.6" y="829" font-size="16.5" textLength="12.9" lengthAdjust="spacingAndGlyphs" >m</text>
<text class="sd" x="260.6" y="901.98" font-size="13.2" textLength="79.3" lengthAdjust="spacingAndGlyphs" >ワイドスパン</text>
<text class="sd" x="342.7" y="902.1" font-size="24.6" textLength="27.1" lengthAdjust="spacingAndGlyphs" >7.8</text>
<text class="sd" x="371.6" y="902.1" font-size="16.5" textLength="12.6" lengthAdjust="spacingAndGlyphs" >m</text>
<text class="sl" x="133.9" y="1000.59" font-size="10.2" textLength="8.7" lengthAdjust="spacingAndGlyphs" >通</text>
<text class="sl" x="148.2" y="1000.59" font-size="10.2" textLength="9.7" lengthAdjust="spacingAndGlyphs" >風</text>
<text class="sl" x="215" y="1000.59" font-size="10.2" textLength="9.2" lengthAdjust="spacingAndGlyphs" >採</text>
<text class="sl" x="230.6" y="1000.59" font-size="10.2" textLength="9.5" lengthAdjust="spacingAndGlyphs" >光</text>
<text class="sl" x="303.3" y="1000.59" font-size="10.2" textLength="9.1" lengthAdjust="spacingAndGlyphs" >収</text>
<text class="sl" x="318" y="1000.59" font-size="10.2" textLength="9.5" lengthAdjust="spacingAndGlyphs" >納</text>
<text class="sl" x="362.4" y="1000.59" font-size="10.2" textLength="60.7" lengthAdjust="spacingAndGlyphs" >出入り可能窓</text>
<text class="sl" x="478.6" y="1000.59" font-size="10.2" textLength="139.0" lengthAdjust="spacingAndGlyphs" >アクセントクロス(無償オプション)</text>
</svg>
</body></html>
